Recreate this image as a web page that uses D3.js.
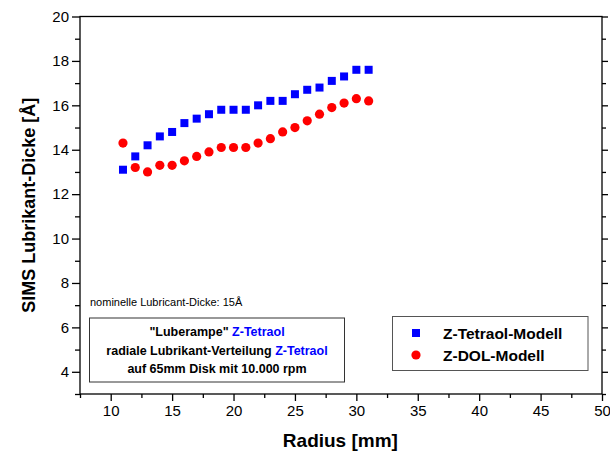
<!DOCTYPE html>
<html>
<head>
<meta charset="utf-8">
<script src="https://cdn.jsdelivr.net/npm/d3@7"></script>
<style>
  html, body { margin: 0; padding: 0; background: #fff; }
  svg { display: block; font-family: "Liberation Sans", Arial, sans-serif; }
</style>
</head>
<body>
<svg id="chart" width="610" height="454"></svg>
<script>
// Radius positions in mm
const radius = [11, 12, 13, 14, 15, 16, 17, 18, 19, 20, 21, 22, 23, 24, 25, 26, 27, 28, 29, 30, 31];
// Lubricant thickness in Å
const tetraol = [13.1, 13.7, 14.2, 14.6, 14.8, 15.2, 15.4, 15.6, 15.8, 15.8, 15.8, 16.0, 16.2, 16.2, 16.5, 16.7, 16.8, 17.1, 17.3, 17.6, 17.6];
const zdol    = [14.3, 13.2, 13.0, 13.3, 13.3, 13.5, 13.7, 13.9, 14.1, 14.1, 14.1, 14.3, 14.5, 14.8, 15.0, 15.3, 15.6, 15.9, 16.1, 16.3, 16.2];
const xTicks = [10, 15, 20, 25, 30, 35, 40, 45, 50];
const yTicks = [4, 6, 8, 10, 12, 14, 16, 18, 20];
const seriesNames = ["Z-Tetraol-Modell", "Z-DOL-Modell"];

const svg = d3.select("#chart");
const L = 80, R = 602, T = 16.5, B = 394;

const x = d3.scaleLinear().domain([7.5, 50]).range([L, R]);
const y = d3.scaleLinear().domain([3, 20]).range([B, T]);

const axisColor = "#000";

// Frame
svg.append("rect")
  .attr("x", L).attr("y", T).attr("width", R - L).attr("height", B - T)
  .attr("fill", "none").attr("stroke", axisColor).attr("stroke-width", 1.3);

// Bottom axis: major + minor ticks
const xMinor = d3.range(7.5, 50.01, 2.5).filter(v => !xTicks.includes(v));
const gx = svg.append("g").attr("transform", `translate(0,${B})`);
gx.call(d3.axisBottom(x).tickValues(xTicks).tickSize(7).tickPadding(4).tickFormat(d3.format("d")));
gx.select(".domain").remove();
gx.selectAll("line").attr("stroke-width", 1.3);
gx.selectAll("text").attr("font-size", 15).attr("fill", "#000").attr("font-family", "Liberation Sans, Arial, sans-serif");
svg.append("g").attr("transform", `translate(0,${B})`)
  .call(d3.axisBottom(x).tickValues(xMinor).tickSize(4).tickFormat(""))
  .call(g => g.select(".domain").remove())
  .selectAll("line").attr("stroke-width", 1.3);

// Left axis: major + minor ticks
const yMinor = d3.range(3, 20.01, 1).filter(v => !yTicks.includes(v));
const gy = svg.append("g").attr("transform", `translate(${L},0)`);
gy.call(d3.axisLeft(y).tickValues(yTicks).tickSize(8).tickPadding(3).tickFormat(d3.format("d")));
gy.select(".domain").remove();
gy.selectAll("line").attr("stroke-width", 1.3);
gy.selectAll("text").attr("font-size", 15).attr("fill", "#000").attr("font-family", "Liberation Sans, Arial, sans-serif");
svg.append("g").attr("transform", `translate(${L},0)`)
  .call(d3.axisLeft(y).tickValues(yMinor).tickSize(5).tickFormat(""))
  .call(g => g.select(".domain").remove())
  .selectAll("line").attr("stroke-width", 1.3);

// Right axis: outward ticks without labels
svg.append("g").attr("transform", `translate(${R},0)`)
  .call(d3.axisRight(y).tickValues(yTicks).tickSize(6).tickFormat(""))
  .call(g => g.select(".domain").remove())
  .selectAll("line").attr("stroke-width", 1.3);
svg.append("g").attr("transform", `translate(${R},0)`)
  .call(d3.axisRight(y).tickValues(yMinor).tickSize(4).tickFormat(""))
  .call(g => g.select(".domain").remove())
  .selectAll("line").attr("stroke-width", 1.3);

// Axis titles
svg.append("text")
  .attr("transform", `translate(35,${(T + B) / 2}) rotate(-90)`)
  .attr("text-anchor", "middle")
  .attr("font-size", 18).attr("font-weight", "bold")
  .text("SIMS Lubrikant-Dicke [Å]");
svg.append("text")
  .attr("x", x(28.7)).attr("y", 447)
  .attr("text-anchor", "middle")
  .attr("font-size", 19).attr("font-weight", "bold")
  .text("Radius [mm]");

// Data markers
const sq = 8;
svg.append("g").selectAll("rect").data(radius.map((r, i) => [r, tetraol[i]])).join("rect")
  .attr("x", d => x(d[0]) - sq / 2).attr("y", d => y(d[1]) - sq / 2)
  .attr("width", sq).attr("height", sq)
  .attr("fill", "#0000ff");
svg.append("g").selectAll("circle").data(radius.map((r, i) => [r, zdol[i]])).join("circle")
  .attr("cx", d => x(d[0])).attr("cy", d => y(d[1]))
  .attr("r", 4.6)
  .attr("fill", "#ff0000");

// Annotation
svg.append("text")
  .attr("x", 90).attr("y", 306)
  .attr("font-size", 11)
  .text("nominelle Lubricant-Dicke: 15Å");

const box = svg.append("g");
box.append("rect")
  .attr("x", 89.5).attr("y", 318).attr("width", 255).attr("height", 64)
  .attr("fill", "#fff").attr("stroke", "#333").attr("stroke-width", 1);
const boxLines = [
  [["\"Luberampe\" ", "#000"], ["Z-Tetraol", "#0000ff"]],
  [["radiale Lubrikant-Verteilung ", "#000"], ["Z-Tetraol", "#0000ff"]],
  [["auf 65mm Disk mit 10.000 rpm", "#000"]]
];
const boxY = [335.5, 355, 372.5];
boxLines.forEach((parts, i) => {
  const t = box.append("text")
    .attr("x", 217).attr("y", boxY[i])
    .attr("text-anchor", "middle")
    .attr("font-size", 12.5).attr("font-weight", "bold");
  parts.forEach(p => t.append("tspan").attr("fill", p[1]).text(p[0]));
});

// Legend
const lg = svg.append("g");
lg.append("rect")
  .attr("x", 392.5).attr("y", 316.5).attr("width", 195.5).attr("height", 54)
  .attr("fill", "#fff").attr("stroke", "#555").attr("stroke-width", 1);
lg.append("rect")
  .attr("x", 416 - sq / 2).attr("y", 333 - sq / 2).attr("width", sq).attr("height", sq)
  .attr("fill", "#0000ff");
lg.append("circle").attr("cx", 416).attr("cy", 355).attr("r", 4.6).attr("fill", "#ff0000");
lg.selectAll("text.lab").data(seriesNames).join("text")
  .attr("class", "lab")
  .attr("x", 443).attr("y", (d, i) => [338.5, 361][i])
  .attr("font-size", 15.5).attr("font-weight", "bold")
  .text(d => d);
</script>
</body>
</html>
